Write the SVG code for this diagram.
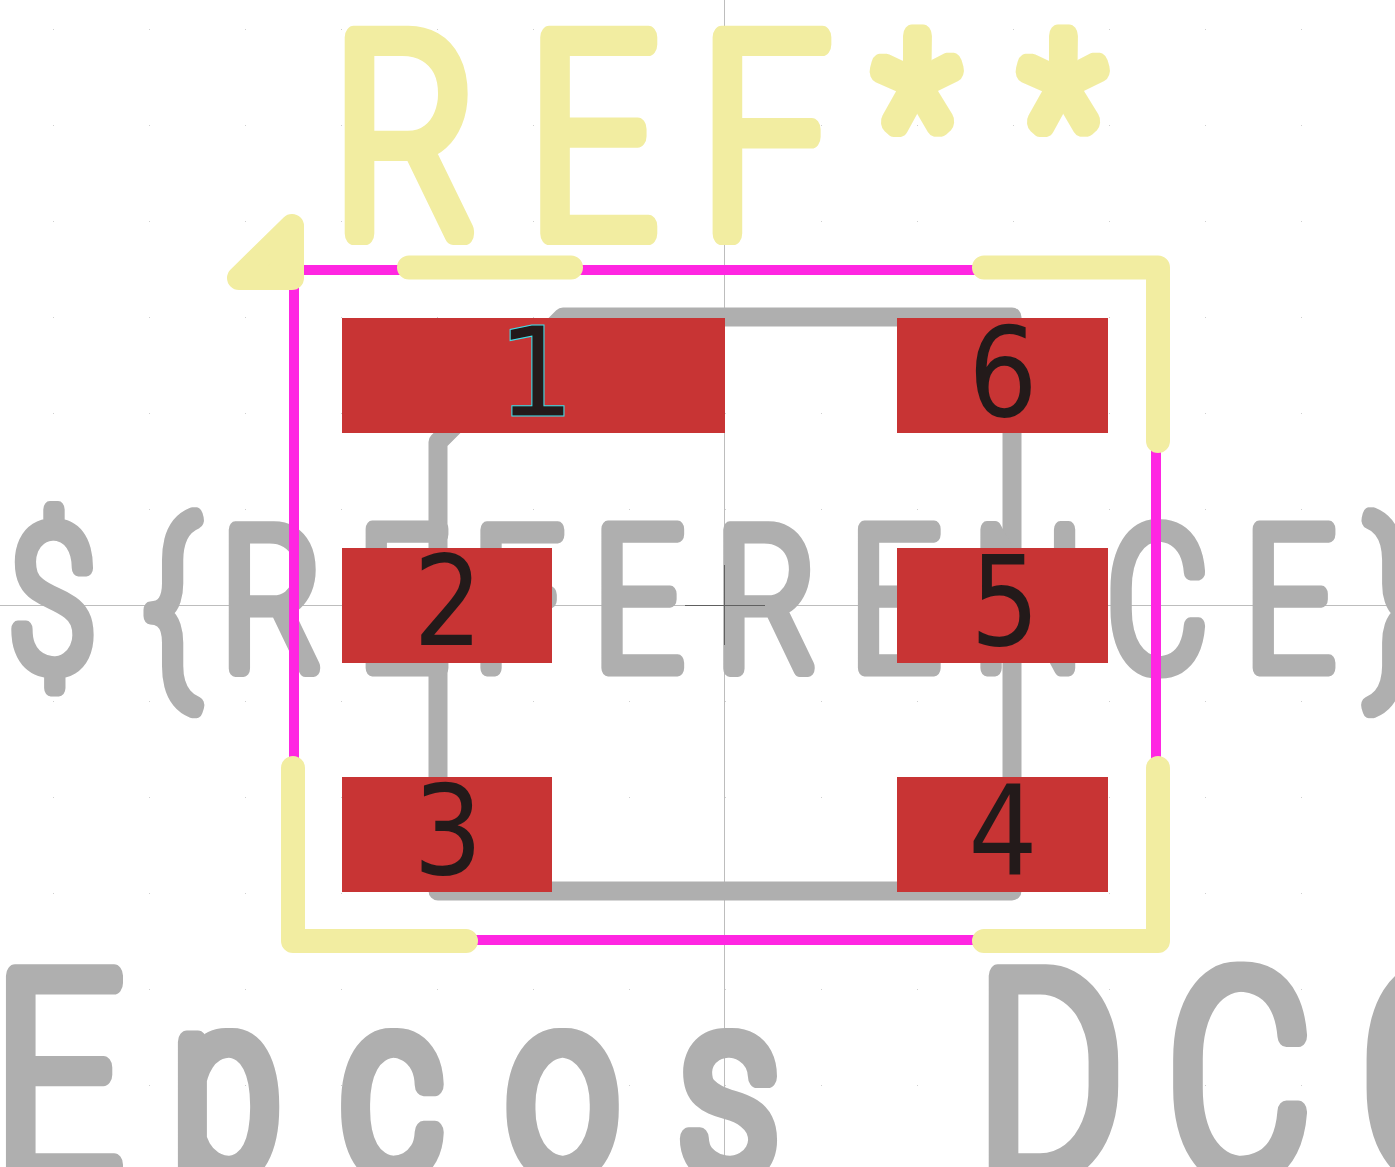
<svg xmlns="http://www.w3.org/2000/svg" width="1395" height="1167" viewBox="0 0 1395 1167">
<style>
.st{font-family:Roboto,"Liberation Sans",sans-serif;font-weight:100;stroke-linejoin:round;stroke-linecap:round}
.fab{fill:#afafaf;stroke:#afafaf}
.silk{fill:none;stroke:#f2eda1;stroke-width:24;stroke-linecap:round;stroke-linejoin:round}
.pad{fill:#c83434}
.num{font-family:"DejaVu Sans","Liberation Sans",sans-serif;font-size:124px;fill:#231a1a;text-anchor:middle}
</style>
<defs>
<pattern id="g" width="96" height="96" patternUnits="userSpaceOnUse" x="53" y="29"><rect width="1" height="1" fill="#d0d0d0"/></pattern>
<filter id="wideL" filterUnits="userSpaceOnUse" x="0" y="0" width="1395" height="1167" color-interpolation-filters="sRGB"><feMorphology operator="dilate" radius="2.5 0"/></filter>
<filter id="wideS" filterUnits="userSpaceOnUse" x="0" y="0" width="1395" height="1167" color-interpolation-filters="sRGB"><feMorphology operator="dilate" radius="1.8 0"/></filter>
</defs>
<rect width="1395" height="1167" fill="#fff"/>
<rect width="1395" height="1167" fill="url(#g)"/>
<g id="axes" stroke="#bdbdbd" stroke-width="1"><path d="M724.5 0V1167M0 605.5H1395" fill="none"/></g>
<g id="fab-outline"><path d="M563 317H1012V891H438V442Z" fill="none" stroke="#afafaf" stroke-width="19" stroke-linejoin="round"/></g>
<g id="fab-text" filter="url(#wideS)">
<text class="st fab" transform="translate(0,667.500) scale(.78,1)" font-size="194" stroke-width="17" x="14 188 286 461 608 763 920 1092 1249 1421 1598 1756" y="0">${REFERENCE}</text>
</g>
<g id="value-text" filter="url(#wideL)">
<text class="st fab" transform="translate(0,1172) scale(.78,1)" font-size="276" stroke-width="23" y="0"><tspan x="-4">E</tspan><tspan font-size="245" x="223 441 654 874">pcos</tspan><tspan x="1100 1256 1500 1748"> DCC</tspan></text>
</g>
<g id="anchor" fill="none" stroke="#606060" stroke-width="1"><path d="M685 605.5H765M724.5 565V645"/></g>
<g id="courtyard"><rect x="294" y="270" width="862" height="670" fill="none" stroke="#ff26e2" stroke-width="10"/></g>
<g id="silkscreen">
<path class="silk" d="M409 267.500H571M984 267.500H1158V441M293 768V941H466M984 941H1158V768"/>
<path d="M292 226V278H239Z" fill="#f2eda1" stroke="#f2eda1" stroke-width="24" stroke-linejoin="round"/>
<g id="ref-text" filter="url(#wideL)">
<text class="st" transform="translate(0,233.500) scale(.78,1)" font-size="276" stroke-width="23" fill="#f2eda1" stroke="#f2eda1" y="0"><tspan x="431 681 902">REF</tspan><tspan font-size="230" x="1127 1314" y="-33.500">**</tspan></text>
</g>
</g>
<g id="pad1"><rect class="pad" x="342" y="318" width="383" height="115"/><text class="num" x="536" y="416" stroke="#3fe0ea" stroke-width="1">1</text></g>
<g id="pad2"><rect class="pad" x="342" y="548" width="210" height="115"/><text class="num" transform="translate(448,645) scale(.88,1)">2</text></g>
<g id="pad3"><rect class="pad" x="342" y="777" width="210" height="115"/><text class="num" transform="translate(448,874) scale(.88,1)">3</text></g>
<g id="pad4"><rect class="pad" x="897" y="777" width="211" height="115"/><text class="num" transform="translate(1003,874) scale(.88,1)">4</text></g>
<g id="pad5"><rect class="pad" x="897" y="548" width="211" height="115"/><text class="num" transform="translate(1005,645) scale(.88,1)">5</text></g>
<g id="pad6"><rect class="pad" x="897" y="318" width="211" height="115"/><text class="num" transform="translate(1003,416) scale(.88,1)">6</text></g>
</svg>
